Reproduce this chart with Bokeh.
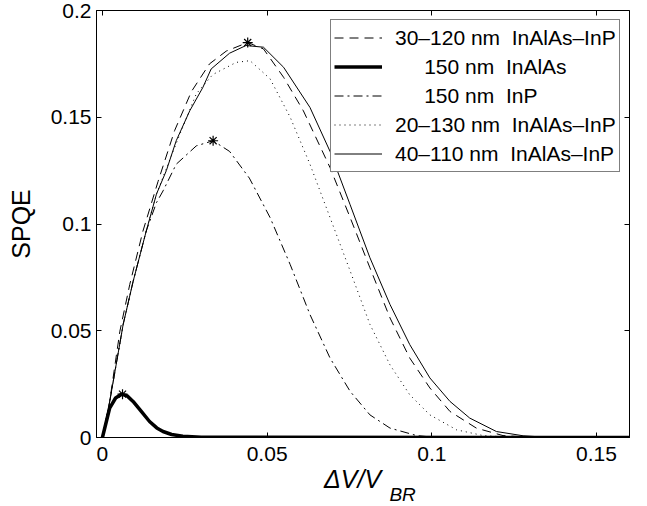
from bokeh.plotting import figure
from bokeh.models import (Range1d, FixedTicker, LinearAxis, Legend, LegendItem)
from bokeh.embed import file_html
from bokeh.resources import INLINE

# ---- data ----
x_3012 = [0, 0.0022, 0.0053, 0.0083, 0.0123, 0.0169, 0.0219, 0.027, 0.0325, 0.0376, 0.0441,
          0.0489, 0.055, 0.061, 0.0691, 0.0752, 0.0812, 0.0873, 0.0933, 0.0994, 0.1055,
          0.1135, 0.1216, 0.13, 0.16]
y_3012 = [0, 0.0169, 0.0498, 0.0717, 0.0967, 0.120, 0.1437, 0.162, 0.175, 0.181, 0.185,
          0.182, 0.1687, 0.153, 0.1264, 0.103, 0.0795, 0.056, 0.0372, 0.0232, 0.0122,
          0.0044, 0.0009, 0.0001, 0]

x_inalas = [0, 0.0022, 0.004, 0.0058, 0.0075, 0.0093, 0.0118, 0.0143, 0.0165, 0.0184, 0.021,
            0.0244, 0.03, 0.16]
y_inalas = [0, 0.0138, 0.0185, 0.0203, 0.0195, 0.0169, 0.0122, 0.0075, 0.0045, 0.0028, 0.0014,
            0.0006, 0.0001, 0]

x_inp = [0, 0.002, 0.0063, 0.0093, 0.0133, 0.0164, 0.0184, 0.0224, 0.0285, 0.0336, 0.0386,
         0.0446, 0.0509, 0.057, 0.063, 0.0691, 0.0752, 0.0812, 0.0873, 0.0954, 0.1, 0.16]
y_inp = [0, 0.015, 0.053, 0.073, 0.0967, 0.110, 0.1155, 0.128, 0.1366, 0.139, 0.134,
         0.1215, 0.103, 0.081, 0.0576, 0.0372, 0.0216, 0.0106, 0.0044, 0.0009, 0.0002, 0]

x_2013 = [0, 0.002, 0.0063, 0.0093, 0.0133, 0.0164, 0.0194, 0.0235, 0.0285, 0.0335, 0.0406,
          0.0448, 0.0509, 0.057, 0.063, 0.0691, 0.0752, 0.0812, 0.0873, 0.0933, 0.0994,
          0.1075, 0.1156, 0.124, 0.16]
y_2013 = [0, 0.015, 0.053, 0.073, 0.0967, 0.114, 0.126, 0.142, 0.161, 0.170, 0.1757,
          0.1765, 0.168, 0.150, 0.128, 0.103, 0.078, 0.053, 0.034, 0.020, 0.0106,
          0.0036, 0.0009, 0.0001, 0]

x_4011 = [0, 0.002, 0.0063, 0.0093, 0.0133, 0.0164, 0.0194, 0.0224, 0.0265, 0.0305, 0.033,
          0.0386, 0.0436, 0.0489, 0.055, 0.063, 0.0691, 0.0752, 0.0812, 0.0873, 0.0933,
          0.0994, 0.1055, 0.1115, 0.1196, 0.1277, 0.135, 0.16]
y_4011 = [0, 0.015, 0.053, 0.073, 0.0967, 0.114, 0.125, 0.139, 0.153, 0.164, 0.1726,
          0.180, 0.1836, 0.1828, 0.1734, 0.1546, 0.134, 0.109, 0.0842, 0.0623, 0.0435,
          0.0279, 0.0169, 0.0091, 0.0028, 0.0008, 0.0001, 0]

peak_x = [0.0441, 0.0336, 0.0061]
peak_y = [0.185, 0.139, 0.0203]

labels = ["30\u2013120 nm \u00a0InAlAs\u2013InP",
          "\u00a0\u00a0\u00a0\u00a0\u00a0150 nm \u00a0InAlAs",
          "\u00a0\u00a0\u00a0\u00a0\u00a0150 nm \u00a0InP",
          "20\u2013130 nm \u00a0InAlAs\u2013InP",
          "40\u2013110 nm \u00a0InAlAs\u2013InP"]

x_ticks = [0, 0.05, 0.1, 0.15]
x_tick_labels = ["0", "0.05", "0.1", "0.15"]
y_ticks = [0, 0.05, 0.1, 0.15, 0.2]
y_tick_labels = ["0", "0.05", "0.1", "0.15", "0.2"]

FONT = "Liberation Sans"

p = figure(frame_width=533, frame_height=427, output_backend="svg", toolbar_location=None,
           x_range=Range1d(-0.0018, 0.16), y_range=Range1d(0, 0.2),
           min_border_left=96, min_border_right=8, min_border_top=10, min_border_bottom=40)
p.background_fill_color = "white"
p.border_fill_color = "white"
p.outline_line_color = "black"
p.outline_line_width = 1
p.grid.visible = False

for ax, ticks, labs in ((p.xaxis[0], x_ticks, x_tick_labels), (p.yaxis[0], y_ticks, y_tick_labels)):
    ax.ticker = FixedTicker(ticks=ticks)
    ax.major_label_overrides = {t: l for t, l in zip(ticks, labs)}
    ax.major_tick_in = 5
    ax.major_tick_out = 0
    ax.minor_tick_line_color = None
    ax.major_label_text_font = FONT
    ax.major_label_text_font_size = "21px"
    ax.major_label_text_color = "black"
    ax.axis_line_color = "black"
    ax.major_tick_line_color = "black"
    ax.axis_label_text_color = "black"
    ax.axis_label_text_font = FONT

p.xaxis[0].major_label_standoff = 9
p.yaxis[0].major_label_standoff = 5
p.yaxis[0].axis_label = "SPQE"
p.yaxis[0].axis_label_text_font_size = "25px"
p.yaxis[0].axis_label_text_font_style = "normal"
p.yaxis[0].axis_label_standoff = 13

# x axis label: "ΔV/V" on the main axis, subscript "BR" on a bare axis below it
p.xaxis[0].axis_label = "\u0394V/V\u00a0\u00a0\u00a0"
p.xaxis[0].axis_label_text_font_size = "25px"
p.xaxis[0].axis_label_text_font_style = "italic"
p.xaxis[0].axis_label_standoff = 1
sub = LinearAxis(ticker=FixedTicker(ticks=[]), axis_line_color=None, major_tick_line_color=None,
                 minor_tick_line_color=None, major_label_text_font_size="1px",
                 axis_label="\u00a0" * 15 + "BR", axis_label_text_font=FONT,
                 axis_label_text_font_size="19px", axis_label_text_font_style="italic",
                 axis_label_text_color="black", axis_label_standoff=-12)
p.add_layout(sub, "below")

# mirrored ticks (top / right), no labels
blank_x = {t: "" for t in x_ticks}
blank_y = {t: "" for t in y_ticks}
top = LinearAxis(ticker=FixedTicker(ticks=x_ticks), major_label_overrides=blank_x,
                 major_label_text_font_size="1px", major_label_standoff=0,
                 major_tick_in=5, major_tick_out=0, major_tick_line_color="black",
                 minor_tick_line_color=None, axis_line_color=None)
right = LinearAxis(ticker=FixedTicker(ticks=y_ticks), major_label_overrides=blank_y,
                   major_label_text_font_size="1px", major_label_standoff=0,
                   major_tick_in=5, major_tick_out=0, major_tick_line_color="black",
                   minor_tick_line_color=None, axis_line_color=None)
p.add_layout(top, "above")
p.add_layout(right, "right")

r1 = p.line(x_3012, y_3012, line_color="black", line_width=1, line_dash="9 6")
r2 = p.line(x_inalas, y_inalas, line_color="black", line_width=3.5)
r3 = p.line(x_inp, y_inp, line_color="black", line_width=1, line_dash="9 4 2 4")
r4 = p.line(x_2013, y_2013, line_color="black", line_width=1, line_dash="1 4")
r5 = p.line(x_4011, y_4011, line_color="black", line_width=1)
p.scatter(peak_x, peak_y, marker="asterisk", size=10, line_color="black", line_width=1.2)

legend = Legend(items=[LegendItem(label=l, renderers=[r]) for l, r in zip(labels, [r1, r2, r3, r4, r5])],
                location=(234, 265), orientation="vertical",
                label_text_font=FONT, label_text_font_size="21px", label_text_color="black",
                glyph_width=48, glyph_height=29, label_height=29, label_standoff=13,
                spacing=0, padding=3, margin=0,
                border_line_color="black", border_line_width=1,
                background_fill_color="white", background_fill_alpha=1)
p.add_layout(legend, "center")

open("out.html", "w").write(file_html(p, INLINE))
